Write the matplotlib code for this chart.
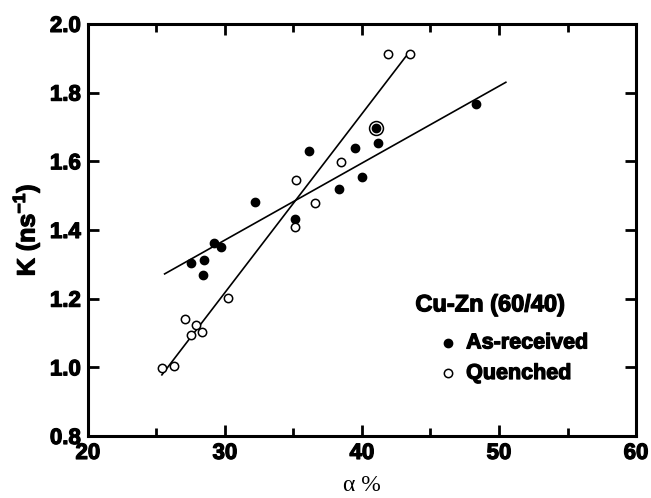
import matplotlib
matplotlib.use("Agg")
import matplotlib.pyplot as plt
import matplotlib.patheffects as pe
from matplotlib.ticker import MultipleLocator, FormatStrFormatter

plt.rcParams['font.family'] = ['Liberation Sans', 'DejaVu Sans']
plt.rcParams['mathtext.fontset'] = 'custom'
plt.rcParams['mathtext.rm'] = 'Liberation Sans:bold'
plt.rcParams['mathtext.bf'] = 'Liberation Sans:bold'

# As-received (filled)
ar_x = [27.5, 28.5, 28.4, 29.2, 29.7, 32.2, 35.1, 36.1, 38.3, 39.5, 40.0, 41.0, 41.2, 48.3]
ar_y = [1.305, 1.313, 1.270, 1.362, 1.350, 1.480, 1.433, 1.630, 1.520, 1.638, 1.553, 1.697, 1.652, 1.767]
# Quenched (open)
q_x = [25.4, 26.3, 27.1, 27.5, 27.9, 28.3, 30.2, 35.1, 35.2, 36.6, 38.5, 41.9, 43.5]
q_y = [0.998, 1.004, 1.140, 1.095, 1.122, 1.103, 1.203, 1.410, 1.545, 1.478, 1.598, 1.912, 1.912]
# highlighted point
hl_x = [41.0]
hl_y = [1.697]
# fitted lines (endpoints)
ar_fit_x = [25.6, 50.5]
ar_fit_y = [1.272, 1.830]
q_fit_x = [25.4, 43.2]
q_fit_y = [0.978, 1.905]

heavy = [pe.withStroke(linewidth=0.9, foreground='black')]

fig = plt.figure(figsize=(6.51, 4.98), dpi=100)
ax = fig.add_axes([0.135, 0.1245, 0.842, 0.8275])

ax.plot(ar_fit_x, ar_fit_y, color='black', lw=1.2)
ax.plot(q_fit_x, q_fit_y, color='black', lw=1.2)
ax.plot(ar_x, ar_y, 'o', ms=6.0, mfc='black', mec='black', mew=1.0)
ax.plot(q_x, q_y, 'o', ms=6.0, mfc='white', mec='black', mew=1.1)
ax.plot(hl_x, hl_y, 'o', ms=10, mfc='none', mec='black', mew=1.1)

ax.set_xlim(20, 60)
ax.set_ylim(0.8, 2.0)
ax.xaxis.set_major_locator(MultipleLocator(10))
ax.xaxis.set_minor_locator(MultipleLocator(5))
ax.yaxis.set_major_locator(MultipleLocator(0.2))
ax.yaxis.set_major_formatter(FormatStrFormatter('%.1f'))
ax.tick_params(axis='both', which='major', direction='in', length=8, width=2,
               top=True, right=True, labelsize=16, pad=5)
ax.tick_params(axis='x', which='minor', direction='in', length=6, width=2, top=True)
for lab in ax.get_xticklabels() + ax.get_yticklabels():
    lab.set_fontweight('bold')
    lab.set_path_effects(heavy)
for s in ax.spines.values():
    s.set_linewidth(2.2)

yl = ax.set_ylabel(r'K (ns$^{\mathbf{-1}}$)', fontsize=18, fontweight='bold', labelpad=6)
yl.set_path_effects(heavy)
ax.set_xlabel('\u03b1 %', fontsize=17, family=['Liberation Serif', 'DejaVu Serif'], labelpad=8)

t = ax.text(43.9, 1.182, 'Cu-Zn (60/40)', fontsize=17, fontweight='bold', ha='left', va='center')
t.set_path_effects(heavy)
ax.plot([46.3], [1.071], 'o', ms=6.0, mfc='black', mec='black')
t = ax.text(47.6, 1.071, 'As-received', fontsize=15.5, fontweight='bold', ha='left', va='center')
t.set_path_effects(heavy)
ax.plot([46.3], [0.982], 'o', ms=6.0, mfc='white', mec='black', mew=1.1)
t = ax.text(47.6, 0.982, 'Quenched', fontsize=15.5, fontweight='bold', ha='left', va='center')
t.set_path_effects(heavy)

fig.savefig('out.png', dpi=100)
